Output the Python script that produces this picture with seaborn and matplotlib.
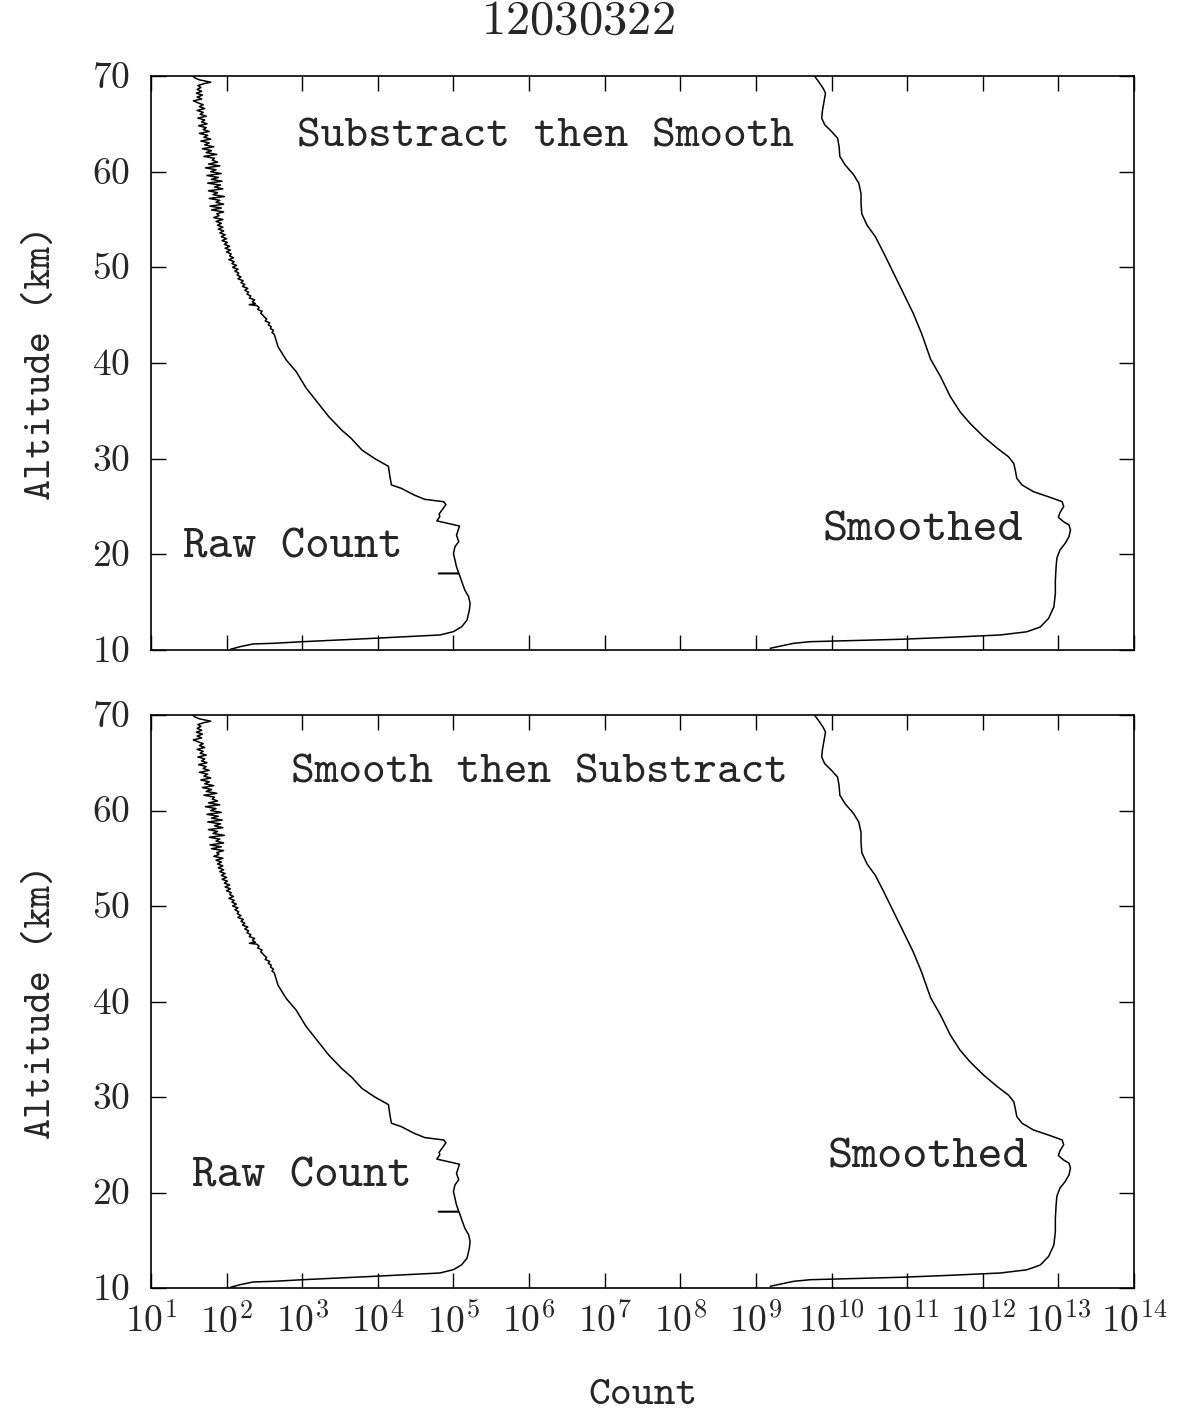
import numpy as np
import pandas as pd
import matplotlib
matplotlib.use("Agg")
import matplotlib.pyplot as plt
import seaborn as sns

# ---- lidar count profile 12030322 ----
# raw photon counts: altitude (km) and log10(count)
raw_alt = [
    10.07, 10.35, 10.63, 10.70, 10.87, 11.05, 11.22, 11.40, 11.57, 11.92,
    12.44, 13.14, 14.18, 14.88, 15.58, 16.27, 17.14, 17.84, 17.97, 18.00,
    18.03, 18.70, 19.40, 20.10, 20.80, 21.33, 22.00, 22.70, 22.96, 23.50,
    23.95, 24.20, 25.20, 25.50, 25.75, 26.20, 26.90, 27.25, 28.10, 29.20,
    30.00, 30.90, 32.10, 33.00, 34.40, 36.00, 37.40, 39.10, 40.30, 41.70,
    43.0, 43.2, 43.4, 43.6, 43.8, 44.0, 44.2, 44.4, 44.6, 44.8,
    45.0, 45.2, 45.4, 45.6, 45.8, 46.0, 46.1, 46.2, 46.4, 46.6,
    46.8, 47.0, 47.2, 47.4, 47.6, 47.8, 48.0, 48.2, 48.4, 48.6,
    48.8, 49.0, 49.2, 49.4, 49.6, 49.8, 50.0, 50.2, 50.4, 50.6,
    50.8, 51.0, 51.2, 51.4, 51.6, 51.8, 52.0, 52.2, 52.4, 52.6,
    52.8, 53.0, 53.2, 53.4, 53.6, 53.8, 54.0, 54.2, 54.4, 54.6,
    54.8, 55.0, 55.2, 55.4, 55.6, 55.8, 56.0, 56.2, 56.4, 56.6,
    56.8, 57.0, 57.2, 57.4, 57.6, 57.8, 58.0, 58.2, 58.4, 58.6,
    58.8, 59.0, 59.2, 59.4, 59.6, 59.8, 60.0, 60.2, 60.4, 60.6,
    60.8, 61.0, 61.2, 61.4, 61.6, 61.8, 62.0, 62.2, 62.4, 62.6,
    62.8, 63.0, 63.2, 63.4, 63.6, 63.8, 64.0, 64.2, 64.4, 64.6,
    64.8, 65.0, 65.2, 65.4, 65.6, 65.8, 66.0, 66.2, 66.4, 66.6,
    66.8, 67.0, 67.2, 67.4, 67.6, 67.8, 68.0, 68.2, 68.4, 68.6,
    68.8, 69.0, 69.2, 69.35, 69.6, 69.8, 70.0,
]
raw_log = [
    2.05, 2.18, 2.35, 2.62, 3.01, 3.50, 3.94, 4.38, 4.82, 5.00,
    5.11, 5.18, 5.21, 5.22, 5.20, 5.15, 5.11, 5.08, 5.07, 4.80,
    5.07, 5.04, 5.02, 5.00, 5.02, 5.07, 5.04, 5.07, 5.08, 4.78,
    4.82, 4.81, 4.90, 4.87, 4.62, 4.48, 4.31, 4.18, 4.16, 4.14,
    3.96, 3.79, 3.65, 3.52, 3.35, 3.19, 3.05, 2.92, 2.79, 2.68,
    2.63, 2.60, 2.62, 2.58, 2.59, 2.55, 2.57, 2.51, 2.53, 2.50,
    2.48, 2.45, 2.47, 2.41, 2.43, 2.40, 2.30, 2.38, 2.34, 2.37,
    2.30, 2.32, 2.27, 2.29, 2.24, 2.28, 2.21, 2.24, 2.19, 2.22,
    2.15, 2.19, 2.14, 2.16, 2.11, 2.15, 2.08, 2.13, 2.07, 2.10,
    2.03, 2.09, 2.04, 2.06, 2.00, 2.05, 1.98, 2.04, 1.97, 2.01,
    1.94, 2.00, 1.93, 1.98, 1.91, 1.96, 1.89, 1.95, 1.88, 1.93,
    1.86, 1.95, 1.83, 1.90, 1.87, 1.96, 1.80, 1.93, 1.78, 1.96,
    1.86, 1.91, 1.77, 1.97, 1.82, 1.88, 1.76, 1.95, 1.84, 1.92,
    1.75, 1.94, 1.80, 1.89, 1.74, 1.93, 1.79, 1.86, 1.72, 1.91,
    1.76, 1.88, 1.81, 1.84, 1.70, 1.87, 1.73, 1.80, 1.68, 1.83,
    1.71, 1.77, 1.66, 1.79, 1.70, 1.75, 1.64, 1.77, 1.69, 1.73,
    1.63, 1.74, 1.67, 1.71, 1.62, 1.73, 1.65, 1.69, 1.61, 1.71,
    1.64, 1.69, 1.62, 1.56, 1.67, 1.61, 1.68, 1.60, 1.67, 1.61,
    1.66, 1.62, 1.70, 1.79, 1.64, 1.58, 1.55,
]

# smoothed profile: altitude (km) and log10(count)
smooth_alt = [
    10.18, 10.40, 10.70, 10.87, 10.98, 11.12, 11.33, 11.57, 11.90, 12.40,
    13.30, 14.50, 15.90, 17.30, 18.70, 19.60, 20.45, 21.15, 21.84, 22.55,
    23.07, 23.40, 23.87, 24.35, 25.00, 25.50, 25.96, 26.55, 27.25, 27.95,
    28.80, 29.50, 30.20, 31.10, 32.30, 33.70, 34.90, 36.50, 38.60, 40.40,
    43.10, 45.20, 47.30, 49.40, 51.50, 53.20, 54.40, 55.60, 56.70, 57.70,
    58.80, 59.70, 60.70, 61.60, 62.60, 63.50, 64.20, 64.90, 65.60, 66.40,
    67.30, 68.20, 68.70, 69.40, 69.93,
]
smooth_log = [
    9.19, 9.32, 9.50, 9.72, 10.25, 10.91, 11.57, 12.23, 12.58, 12.76,
    12.87, 12.94, 12.96, 12.96, 12.97, 12.98, 13.02, 13.09, 13.14, 13.16,
    13.14, 13.07, 13.00, 13.02, 13.07, 13.05, 12.89, 12.67, 12.52, 12.45,
    12.43, 12.41, 12.34, 12.19, 12.01, 11.83, 11.70, 11.57, 11.44, 11.31,
    11.19, 11.08, 10.95, 10.82, 10.69, 10.58, 10.47, 10.40, 10.39, 10.39,
    10.36, 10.29, 10.18, 10.11, 10.10, 10.08, 10.00, 9.91, 9.87, 9.88,
    9.90, 9.92, 9.89, 9.83, 9.78,
]

panel_titles = ["Substract then Smooth", "Smooth then Substract"]
x_tick_exponents = list(range(1, 15))
y_ticks = [10, 20, 30, 40, 50, 60, 70]
run_id = "12030322"

raw_df = pd.DataFrame({"alt": raw_alt, "count": np.power(10.0, raw_log)})
smooth_df = pd.DataFrame({"alt": smooth_alt, "count": np.power(10.0, smooth_log)})

sns.set_style("ticks")
plt.rcParams["font.family"] = ["cmtt10", "DejaVu Serif"]
plt.rcParams["mathtext.fontset"] = "cm"
plt.rcParams["axes.unicode_minus"] = False

W, H = 1192, 1422
fig = plt.figure(figsize=(W / 100, H / 100), dpi=100)
fig.patch.set_facecolor("white")

left, right = 151, 1134
panels = [(76, 650), (715, 1288)]
label_pos = [
    {"title": (2.93, 63.6), "raw": (1.42, 20.6), "smooth": (9.88, 22.4)},
    {"title": (2.85, 63.9), "raw": (1.54, 21.6), "smooth": (9.95, 23.6)},
]

for i, (top, bottom) in enumerate(panels):
    ax = fig.add_axes([left / W, 1 - bottom / H, (right - left) / W, (bottom - top) / H])
    sns.lineplot(data=raw_df, x="count", y="alt", orient="y", sort=False,
                 estimator=None, color="black", linewidth=1.1, ax=ax)
    sns.lineplot(data=smooth_df, x="count", y="alt", orient="y", sort=False,
                 estimator=None, color="black", linewidth=1.1, ax=ax)
    ax.set_xscale("log")
    ax.set_xlim(1e1, 1e14)
    ax.set_ylim(10, 70)
    ax.set_xticks([10.0 ** k for k in x_tick_exponents])
    ax.xaxis.set_minor_locator(matplotlib.ticker.NullLocator())
    ax.set_yticks(y_ticks)
    ax.set_yticklabels([f"${v}$" for v in y_ticks])
    ax.tick_params(axis="both", which="major", direction="in", length=11,
                   width=1.0, top=True, right=True, color="black")
    ax.tick_params(axis="y", labelsize=27, pad=15)
    ax.tick_params(axis="x", labelsize=27, pad=12)
    for sp in ax.spines.values():
        sp.set_visible(True)
        sp.set_linewidth(1.2)
        sp.set_color("black")
    ax.set_ylabel("Altitude (km)", fontsize=29, labelpad=24)
    if i == 0:
        ax.set_xticklabels([])
        ax.set_xlabel("")
    else:
        ax.set_xticklabels([f"$10^{{{k}}}$" for k in x_tick_exponents])
        ax.set_xlabel("Count", fontsize=30, labelpad=27)

    lp = label_pos[i]
    ax.text(10 ** lp["title"][0], lp["title"][1], panel_titles[i],
            fontsize=32.5, va="center", ha="left")
    ax.text(10 ** lp["raw"][0], lp["raw"][1], "Raw Count",
            fontsize=33.5, va="center", ha="left")
    ax.text(10 ** lp["smooth"][0], lp["smooth"][1], "Smoothed",
            fontsize=34.5, va="center", ha="left")

fig.text(578 / W, 1 - 24 / H, f"${run_id}$", fontsize=35, ha="center", va="center")

fig.savefig("out.png", dpi=100, facecolor="white")
